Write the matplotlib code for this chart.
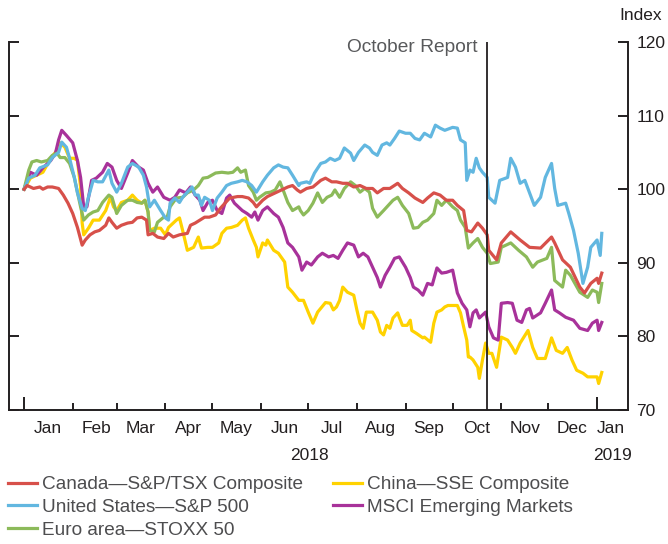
import numpy as np
import matplotlib
matplotlib.use("Agg")
import matplotlib.pyplot as plt
import matplotlib.dates as mdates

plt.rcParams['font.family'] = ['Liberation Sans', 'DejaVu Sans']

# days since 1 Jan 2018, index values (1 Jan 2018 = 100)
canada_days = [0, 2, 6, 10, 12, 15, 18, 22, 25, 28, 31, 34, 37, 39, 42, 45, 48, 52, 54, 56,
               59, 62, 66, 69, 72, 75, 78, 79, 82, 85, 89, 92, 95, 99, 104, 106, 109, 112, 115, 118,
               122, 125, 128, 131, 136, 139, 143, 146, 148, 152, 155, 160, 164, 168, 171, 174, 176, 180, 184, 189,
               192, 196, 199, 203, 206, 210, 214, 218, 222, 225, 229, 233, 238, 241, 245, 249, 254, 257, 261, 265,
               269, 273, 276, 280, 282, 285, 289, 292, 295, 296, 301, 304, 310, 316, 322, 329, 336, 338, 343, 348,
               354, 357, 361, 365, 366, 368]
canada = [100.0, 100.5, 100.1, 100.3, 100.0, 100.3, 100.3, 100.1, 99.2, 98.1, 96.7, 94.8, 92.4, 93.1, 93.8, 94.2, 94.4, 95.1, 96.1, 95.5,
          94.7, 95.1, 95.4, 95.5, 96.1, 96.2, 95.8, 93.8, 94.0, 93.5, 93.3, 94.0, 93.5, 93.8, 94.0, 95.1, 95.4, 95.8, 96.2, 96.2,
          96.5, 97.4, 98.1, 98.8, 99.0, 99.0, 98.8, 98.2, 97.6, 98.5, 99.0, 99.5, 99.9, 100.3, 100.5, 99.9, 99.6, 100.1, 100.3, 101.2,
          101.5, 101.0, 101.0, 100.8, 100.8, 100.3, 100.5, 100.1, 100.1, 99.5, 100.1, 100.1, 100.8, 100.1, 99.5, 98.8, 98.2, 98.8, 99.5, 99.2,
          98.5, 98.5, 97.8, 97.1, 94.4, 94.2, 95.4, 94.7, 93.8, 91.7, 90.4, 92.7, 94.2, 93.1, 92.1, 92.0, 93.5, 92.7, 90.4, 89.4,
          86.7, 85.9, 87.2, 87.9, 87.2, 88.6]

us_days = [0, 3, 7, 10, 15, 18, 22, 24, 27, 29, 32, 34, 37, 39, 41, 44, 47, 50, 54, 56,
           59, 62, 66, 69, 73, 76, 78, 80, 83, 87, 90, 92, 93, 96, 99, 101, 104, 107, 109, 111,
           113, 115, 118, 120, 123, 126, 129, 132, 136, 139, 142, 145, 148, 152, 155, 159, 162, 165, 168, 171,
           175, 176, 180, 182, 185, 189, 192, 195, 198, 201, 204, 208, 210, 213, 217, 220, 222, 225, 228, 231,
           233, 236, 239, 243, 246, 249, 252, 255, 259, 262, 265, 268, 273, 276, 278, 281, 282, 284, 286, 288,
           290, 292, 295, 296, 300, 303, 308, 310, 313, 316, 319, 322, 325, 329, 332, 336, 338, 340, 345, 347,
           350, 353, 356, 359, 361, 365, 367, 368]
us = [100.0, 101.5, 101.9, 102.9, 103.3, 104.3, 105.0, 106.4, 105.7, 104.2, 101.6, 99.5, 97.4, 97.1, 98.9, 101.2, 101.0, 101.0, 102.6, 100.8,
      99.6, 100.8, 103.0, 103.5, 103.0, 101.9, 100.3, 97.6, 98.5, 97.1, 96.1, 95.8, 98.1, 98.8, 98.2, 98.9, 99.6, 100.3, 99.2, 99.2,
      97.8, 98.9, 98.5, 97.1, 98.8, 99.6, 100.5, 100.8, 101.0, 101.2, 101.0, 100.5, 99.6, 101.0, 101.9, 102.9, 103.3, 103.0, 102.9, 101.9,
      100.5, 100.8, 101.0, 100.8, 102.2, 103.5, 103.7, 104.2, 103.9, 104.2, 105.6, 104.9, 103.9, 105.0, 106.0, 105.6, 105.0, 104.6, 106.0, 106.3,
      106.0, 106.9, 107.9, 107.6, 107.6, 106.9, 106.7, 107.6, 107.1, 108.7, 108.3, 108.0, 108.4, 108.3, 106.7, 106.3, 101.2, 102.6, 102.3, 104.2,
      102.9, 102.3, 101.6, 98.9, 98.1, 101.2, 101.6, 104.2, 103.0, 100.8, 101.2, 99.5, 97.8, 98.9, 101.6, 103.5, 100.1, 97.8, 98.1, 96.7,
      94.4, 91.3, 87.2, 89.4, 92.1, 93.1, 91.0, 94.0]

euro_days = [0, 3, 5, 8, 11, 15, 18, 21, 23, 26, 29, 32, 36, 38, 41, 44, 47, 50, 54, 56,
             59, 62, 66, 69, 72, 75, 77, 79, 80, 83, 85, 89, 91, 93, 97, 101, 104, 108, 111, 114,
             117, 122, 126, 130, 133, 136, 138, 141, 143, 146, 148, 150, 154, 157, 160, 163, 165, 168, 171, 175,
             176, 178, 181, 184, 187, 190, 193, 196, 198, 201, 204, 208, 211, 214, 217, 220, 222, 225, 229, 232,
             235, 238, 241, 245, 248, 251, 254, 257, 261, 263, 266, 269, 273, 276, 278, 281, 283, 286, 289, 292,
             295, 297, 302, 304, 310, 315, 320, 324, 327, 333, 336, 338, 343, 345, 348, 354, 359, 362, 365, 366, 368]
euro = [100.0, 102.6, 103.7, 103.9, 103.7, 103.9, 104.6, 104.9, 104.3, 104.3, 103.5, 101.6, 97.6, 95.8, 96.5, 96.9, 97.1, 98.2, 99.2, 98.9,
        96.7, 97.8, 98.5, 98.5, 98.2, 98.1, 98.5, 96.9, 94.4, 94.2, 95.5, 96.2, 96.1, 97.6, 98.8, 98.9, 99.5, 99.9, 100.5, 101.5,
        101.6, 102.2, 102.3, 102.2, 102.3, 102.9, 102.3, 102.6, 100.5, 99.6, 98.5, 98.9, 99.5, 99.6, 99.9, 101.0, 99.9, 98.2, 97.1, 97.6,
        97.1, 96.5, 97.1, 98.1, 99.5, 98.2, 98.9, 99.2, 99.9, 98.9, 100.1, 101.0, 100.5, 99.6, 100.1, 99.6, 97.4, 96.2, 97.1, 97.8,
        98.5, 98.9, 97.8, 96.7, 94.7, 94.8, 95.5, 95.8, 96.7, 98.5, 97.8, 98.5, 97.6, 97.1, 95.8, 94.8, 92.0, 92.7, 93.3, 92.1,
        91.3, 89.9, 90.1, 92.1, 92.7, 91.7, 90.8, 89.4, 90.1, 90.6, 92.1, 87.6, 86.7, 89.0, 88.3, 86.0, 85.3, 86.3, 86.0, 84.6, 87.2]

china_days = [0, 4, 8, 12, 17, 21, 23, 26, 29, 32, 34, 36, 37, 38, 41, 44, 48, 52, 55, 57,
              59, 62, 66, 69, 72, 75, 77, 79, 80, 83, 87, 90, 92, 95, 97, 99, 101, 104, 108, 111,
              113, 117, 120, 124, 126, 129, 132, 136, 139, 141, 143, 146, 148, 149, 152, 154, 155, 159, 162, 165,
              166, 168, 171, 175, 178, 181, 184, 187, 192, 195, 197, 199, 201, 203, 206, 210, 212, 214, 216, 218,
              222, 225, 227, 229, 231, 233, 235, 238, 239, 241, 244, 246, 247, 250, 254, 255, 259, 261, 263, 266,
              268, 270, 276, 278, 280, 282, 283, 284, 286, 289, 290, 292, 294, 296, 298, 301, 304, 308, 311, 313,
              316, 321, 324, 327, 332, 336, 339, 343, 346, 349, 352, 356, 359, 365, 366, 368]
china = [100.0, 101.5, 101.9, 102.3, 104.2, 105.3, 106.3, 105.7, 104.2, 104.2, 103.9, 100.3, 95.4, 93.8, 94.7, 95.8, 95.8, 97.1, 98.9, 97.6,
         97.1, 98.2, 98.5, 99.2, 98.5, 98.1, 98.5, 96.9, 94.4, 94.7, 94.7, 93.8, 94.8, 95.4, 95.8, 96.1, 94.4, 91.7, 92.1, 93.5,
         92.0, 92.1, 92.1, 92.7, 94.0, 94.7, 94.8, 95.1, 95.8, 96.1, 94.7, 93.1, 92.1, 90.8, 92.7, 92.4, 93.1, 91.7, 91.3, 90.4,
         90.1, 86.7, 86.0, 84.9, 84.9, 83.3, 81.8, 83.3, 84.6, 84.5, 83.6, 84.0, 84.9, 86.7, 86.0, 85.6, 83.6, 81.8, 81.1, 83.3,
         83.3, 82.2, 80.6, 80.2, 81.5, 81.1, 82.5, 83.2, 82.6, 81.5, 81.5, 82.2, 80.8, 80.4, 79.8, 79.9, 79.2, 81.8, 83.3, 83.6,
         84.0, 84.2, 84.2, 83.2, 81.3, 79.5, 77.2, 77.2, 76.8, 75.8, 74.3, 76.8, 79.1, 77.7, 77.7, 75.8, 79.9, 79.5, 78.5, 77.7,
         79.1, 80.8, 78.5, 77.0, 77.0, 79.8, 78.1, 77.7, 78.5, 76.8, 75.4, 75.0, 74.5, 74.5, 73.6, 75.1]

em_days = [0, 4, 8, 12, 17, 20, 22, 24, 27, 31, 34, 36, 38, 40, 43, 46, 50, 53, 56, 59,
           62, 66, 69, 73, 76, 79, 82, 85, 89, 93, 96, 99, 103, 106, 109, 112, 114, 117, 120, 123,
           126, 129, 131, 134, 139, 142, 145, 147, 149, 152, 155, 159, 162, 165, 168, 171, 175, 177, 180, 183,
           187, 190, 194, 197, 200, 203, 206, 210, 213, 216, 219, 222, 225, 227, 230, 233, 236, 239, 243, 246,
           248, 251, 254, 257, 260, 263, 266, 269, 273, 276, 279, 282, 284, 286, 288, 290, 294, 296, 299, 302,
           304, 308, 311, 314, 317, 320, 322, 324, 329, 332, 336, 338, 341, 345, 350, 354, 359, 362, 365, 366, 368]
em = [100.0, 102.3, 101.9, 102.9, 103.9, 104.9, 106.7, 108.0, 107.3, 106.3, 103.9, 101.6, 97.6, 97.6, 101.2, 101.5, 102.3, 103.5, 103.0, 101.2,
      100.1, 102.2, 103.9, 103.0, 102.6, 100.8, 99.6, 100.3, 98.9, 98.5, 98.9, 99.9, 99.5, 100.3, 99.2, 98.5, 97.1, 98.2, 98.5, 97.1,
      96.7, 98.8, 99.2, 98.1, 97.1, 96.7, 96.2, 96.9, 95.8, 97.1, 97.6, 96.7, 96.2, 94.8, 92.7, 92.1, 90.8, 89.0, 90.1, 89.7,
      90.8, 91.3, 90.8, 91.0, 90.6, 91.7, 92.7, 92.4, 90.8, 91.3, 90.8, 89.4, 88.0, 86.7, 88.3, 89.4, 90.6, 90.8, 89.4, 88.0,
      86.7, 86.3, 85.6, 87.2, 87.0, 89.3, 88.6, 88.7, 89.0, 85.9, 84.5, 83.6, 81.3, 83.2, 83.6, 82.5, 83.3, 81.3, 79.8, 79.5,
      84.5, 84.6, 84.5, 82.2, 81.9, 83.6, 83.8, 82.5, 83.2, 84.5, 86.3, 83.6, 83.2, 82.6, 82.2, 81.1, 80.8, 81.8, 82.2, 80.8, 81.9]

labels = ['Canada\u2014S&P/TSX Composite', 'United States\u2014S&P 500', 'Euro area\u2014STOXX 50',
          'China\u2014SSE Composite', 'MSCI Emerging Markets']
colors = ['#d7504a', '#62b7e0', '#8cba5a', '#ffd200', '#a8329a']
zorders = [6, 5, 4, 2, 3]

months = ['Jan', 'Feb', 'Mar', 'Apr', 'May', 'Jun', 'Jul', 'Aug', 'Sep', 'Oct', 'Nov', 'Dec', 'Jan']
report_date = '2018-10-23'

start = mdates.date2num(np.datetime64('2018-01-01'))


def to_num(days):
    return start + np.array(days, dtype=float)


fig = plt.figure(figsize=(6.68, 5.44), dpi=100)
ax = fig.add_axes([9 / 668, 134 / 544, 619 / 668, 368 / 544])

series = [(canada_days, canada), (us_days, us), (euro_days, euro), (china_days, china), (em_days, em)]
for (d, v), lab, c, z in zip(series, labels, colors, zorders):
    ax.plot(to_num(d), v, color=c, lw=2.3, label=lab, zorder=z, solid_joinstyle='round')

ax.set_ylim(70, 120)
ax.set_xlim(start - 9.6, start + 384.7)

# axis frame
for s in ['left', 'right', 'bottom']:
    ax.spines[s].set_linewidth(1.4)
    ax.spines[s].set_color('#231f20')
ax.spines['top'].set_visible(False)

ax.set_yticks(np.arange(70, 121, 10))
ax.tick_params(axis='y', left=True, right=True, labelleft=False, labelright=True,
               direction='in', length=7.5, width=1.4, color='#231f20',
               labelsize=12.5, labelcolor='#231f20', pad=6)

month_starts = mdates.date2num(np.arange('2018-02', '2019-01', dtype='datetime64[M]').astype('datetime64[D]'))
mid_month = mdates.date2num(np.arange('2018-01', '2019-01', dtype='datetime64[M]').astype('datetime64[D]') + 15)
mid_month = np.append(mid_month, mdates.date2num(np.datetime64('2019-01-10')))
ax.set_xticks(month_starts)
ax.set_xticks(mid_month, minor=True)
ax.set_xticklabels([], minor=False)
ax.set_xticklabels(months, minor=True)
ax.tick_params(axis='x', which='major', direction='in', length=5, width=1.4, color='#231f20')
ax.tick_params(axis='x', which='minor', length=0, labelsize=12.5, labelcolor='#231f20', pad=8)

# taller ticks at year starts
sec = ax.secondary_xaxis('bottom')
sec.set_xticks(mdates.date2num(np.array(['2018-01-01', '2019-01-01'], dtype='datetime64[D]')))
sec.tick_params(direction='in', length=9.5, width=1.4, color='#231f20', labelbottom=False)
sec.spines['bottom'].set_visible(False)

xt = ax.get_xaxis_transform()
ax.text(mdates.date2num(np.datetime64('2018-07-02')), -0.125, '2018', transform=xt,
        ha='center', va='center', fontsize=12.5, color='#231f20')
ax.text(mdates.date2num(np.datetime64('2019-01-11')), -0.125, '2019', transform=xt,
        ha='center', va='center', fontsize=12.5, color='#231f20')

rx = mdates.date2num(np.datetime64(report_date))
ax.axvline(rx, color='#231f20', lw=1.3, zorder=7)
ax.annotate('October Report', (rx, 119.2), xytext=(-7, 0), textcoords='offset points',
            ha='right', va='center', fontsize=13.8, color='#58595b')

fig.text(641 / 668, 1 - 15 / 544, 'Index', ha='center', va='center', fontsize=12.5, color='#231f20')

fig.legend(loc='upper left', bbox_to_anchor=(8 / 668, 1 - 476 / 544), ncol=2, frameon=False,
           fontsize=13.7, handlelength=1.5, handletextpad=0.28, labelspacing=0.28,
           columnspacing=1.6, borderaxespad=0, borderpad=0, labelcolor='#4d4d4f')

fig.savefig('out.png', dpi=100)
